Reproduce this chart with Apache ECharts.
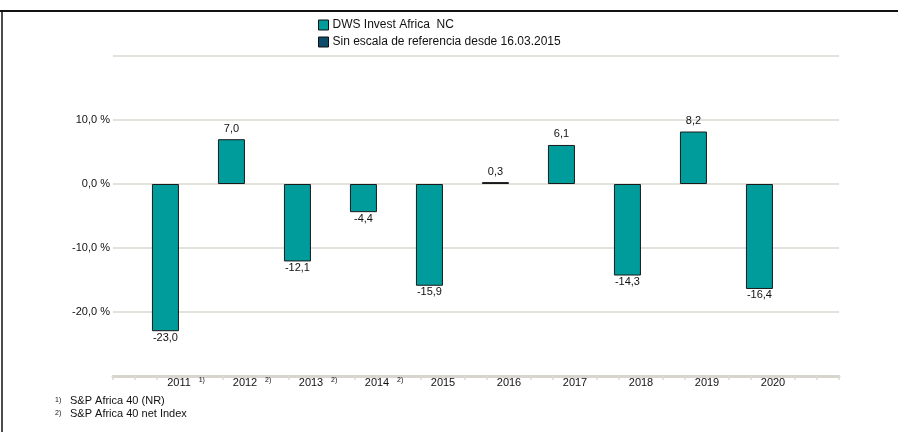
<!DOCTYPE html>
<html>
<head>
<meta charset="utf-8">
<script src="https://cdn.jsdelivr.net/npm/echarts@6/dist/echarts.min.js"></script>
<style>
  html, body { margin: 0; padding: 0; background: #fff; }
  #main { width: 898px; height: 432px; }
</style>
</head>
<body>
<div id="main"></div>
<script>
var years = ["2011", "2012", "2013", "2014", "2015", "2016", "2017", "2018", "2019", "2020", ""];
var yearNotes = ["1)", "2)", "2)", "2)", "", "", "", "", "", "", ""];
var fundValues = [-23.0, 7.0, -12.1, -4.4, -15.9, null, 6.1, -14.3, 8.2, -16.4, null];
var noBenchValues = [null, null, null, null, null, 0.3, null, null, null, null, null];
var yTicks = [-20, -10, 0, 10];
var footnotes = ["S&P Africa 40 (NR)", "S&P Africa 40 net Index"];

var font = "Liberation Sans, Arial, sans-serif";

function fmt(v) {
  return v.toFixed(1).replace(".", ",");
}

function barData(values) {
  return values.map(function (v) {
    if (v === null) return null;
    return {
      value: v,
      label: v < 0 ? { position: "bottom", distance: 1 } : { position: "top", distance: 5 },
    };
  });
}

var chartDom = document.getElementById("main");
var myChart = echarts.init(chartDom);
var option = {
  animation: false,
  textStyle: { fontFamily: font },
  legend: {
    orient: "vertical",
    left: 313,
    top: 14,
    itemWidth: 10,
    itemHeight: 10,
    itemGap: 5,
    icon: "rect",
    data: ["DWS Invest Africa  NC", "Sin escala de referencia desde 16.03.2015"],
    textStyle: { fontSize: 12, color: "#111", fontFamily: font, padding: [0, 0, 0, -1] },
    itemStyle: { borderColor: "#111", borderWidth: 1 },
  },
  grid: { left: 113, right: 59, top: 56, bottom: 56 },
  xAxis: [
    {
      type: "category",
      data: years,
      show: false,
    },
    {
      type: "value",
      min: 0,
      max: 33,
      interval: 1,
      position: "bottom",
      axisLine: { show: true, lineStyle: { color: "#d8d5ce", width: 3 } },
      axisTick: { show: true, length: 4, lineStyle: { color: "#dcd9d2", width: 1.5 } },
      splitLine: { show: false },
      axisLabel: {
        margin: 1,
        fontSize: 11,
        color: "#111",
        fontFamily: font,
        formatter: function (v) {
          if (v % 3 !== 0 || v === 0 || v > 30) return "";
          var i = v / 3 - 1;
          return "{p|}{y|" + years[i] + "}{n|" + yearNotes[i] + "}";
        },
        rich: {
          p: { width: 17 },
          y: { fontSize: 11, color: "#111", fontFamily: font },
          n: { fontSize: 7, color: "#111", width: 12, padding: [0, 0, 4, 5], fontFamily: font },
        },
      },
    },
  ],
  yAxis: {
    type: "value",
    min: -30,
    max: 20,
    interval: 10,
    axisLine: { show: false },
    axisTick: { show: false },
    splitLine: { lineStyle: { color: "#dcd9d2", width: 1.5 } },
    axisLabel: {
      margin: 3,
      fontSize: 11,
      color: "#111",
      fontFamily: font,
      formatter: function (v) {
        return yTicks.indexOf(v) >= 0 ? fmt(v) + " %" : "";
      },
    },
  },
  series: [
    {
      name: "slot",
      type: "bar",
      barWidth: 27,
      barGap: "44%",
      data: [],
    },
    {
      name: "DWS Invest Africa  NC",
      type: "bar",
      stack: "a",
      barWidth: 27,
      barGap: "44%",
      itemStyle: { color: "#009c9c", borderColor: "#1a1a1a", borderWidth: 1 },
      label: {
        show: true,
        fontSize: 11,
        color: "#111",
        fontFamily: font,
        formatter: function (p) { return fmt(p.value); },
      },
      data: barData(fundValues),
    },
    {
      name: "Sin escala de referencia desde 16.03.2015",
      type: "bar",
      stack: "a",
      barWidth: 27,
      barGap: "44%",
      itemStyle: { color: "#0d4d6b", borderColor: "#1a1a1a", borderWidth: 1 },
      label: {
        show: true,
        fontSize: 11,
        color: "#111",
        fontFamily: font,
        formatter: function (p) { return fmt(p.value); },
      },
      data: barData(noBenchValues),
    },
  ],
  graphic: [
    { type: "line", shape: { x1: 0, y1: 11, x2: 898, y2: 11 }, style: { stroke: "#111", lineWidth: 2 } },
    { type: "line", shape: { x1: 2, y1: 10, x2: 2, y2: 432 }, style: { stroke: "#111", lineWidth: 1.5 } },
    { type: "text", left: 55, top: 397, style: { text: "1)", fontSize: 7, fill: "#111", fontFamily: font } },
    { type: "text", left: 70, top: 395, style: { text: footnotes[0], fontSize: 11, fill: "#111", fontFamily: font } },
    { type: "text", left: 55, top: 410, style: { text: "2)", fontSize: 7, fill: "#111", fontFamily: font } },
    { type: "text", left: 70, top: 408, style: { text: footnotes[1], fontSize: 11, fill: "#111", fontFamily: font } },
  ],
};
myChart.setOption(option);
</script>
</body>
</html>
